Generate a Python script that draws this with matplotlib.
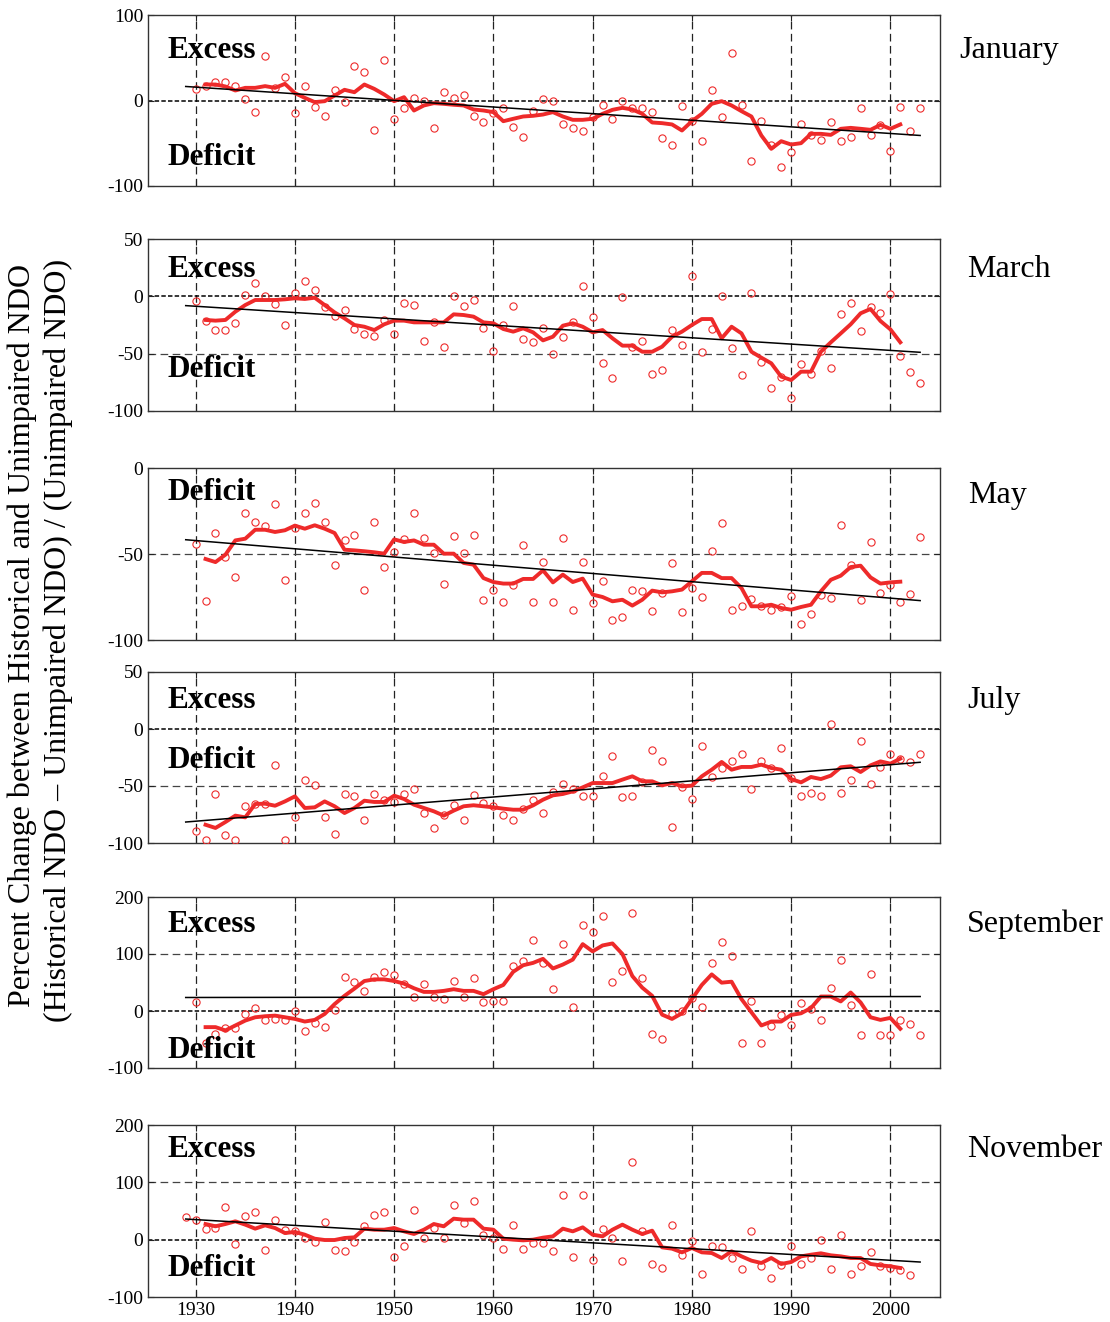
import numpy as np
import matplotlib
matplotlib.use('Agg')
import matplotlib.pyplot as plt

#
plt.rcParams['font.family'] = ['Liberation Serif', 'DejaVu Serif']
plt.rcParams['lines.scale_dashes'] = False
plt.rcParams['axes.unicode_minus'] = False

nan = np.nan

# Years of the observations, of the running mean and of the trend line
years = np.arange(1929, 2004)
avg_years = np.arange(1931, 2002)
trend_years = [1929, 2003]

# January
jan_obs = [nan,
	13.6, 17.5, 21.4, 21.4, 16.4, 2.0, -13.6, 51.9, 14.8, 28.0,
	-14.8, 17.5, -7.8, -17.9, 11.7, -2.3, 40.5, 33.9, -35.0, 47.6,
	-21.4, -8.6, 3.5, -0.8, -32.7, 10.5, 3.5, 7.0, -18.7, -25.7,
	-14.4, -8.2, -31.2, -42.9, -12.5, 1.2, 0.0, -27.3, -31.6, -35.9,
	-19.5, -5.0, -21.4, -0.8, -8.6, -9.0, -13.6, -44.4, -52.6, -6.2,
	-24.2, -47.6, 11.7, -19.5, 55.8, -5.8, -71.3, -23.4, -51.5, -78.0,
	-60.8, -27.7, -40.2, -46.4, -25.7, -46.8, -42.9, -9.0, -40.5, -29.2,
	-58.5, -7.4, -35.9, -9.0]
jan_avg = [18.7, 18.7, 16.4, 11.7, 14.8, 14.8, 16.8, 14.8, 19.5,
	8.6, 3.1, -1.9, -0.8, 5.8, 12.5, 9.7, 18.7, 13.6, 7.0,
	-0.8, 3.9, -11.7, -5.8, -3.1, -3.9, -5.0, -5.8, -10.5, -11.7,
	-13.6, -24.2, -21.4, -18.7, -17.9, -16.4, -13.6, -18.7, -22.6, -22.6,
	-21.4, -15.6, -10.9, -8.6, -10.5, -15.6, -25.7, -26.5, -28.0, -35.1,
	-24.2, -15.6, -3.9, -0.8, -5.8, -12.5, -18.7, -40.9, -56.5, -47.6,
	-51.5, -49.9, -39.0, -39.0, -40.2, -33.1, -32.0, -33.1, -34.3, -28.5,
	-33.1, -28.0]
jan_trend = [16.4, -40.9]

# March
mar_obs = [nan,
	-3.8, -21.2, -29.0, -29.4, -23.5, 0.9, 11.9, 0.3, -7.0, -25.3,
	2.6, 13.1, 5.5, -9.0, -17.2, -11.9, -28.2, -33.1, -34.6, -20.9,
	-33.1, -6.1, -7.8, -38.7, -22.1, -43.9, 0.3, -8.4, -3.5, -27.3,
	-48.0, -24.7, -8.1, -36.9, -39.5, -27.9, -50.6, -35.8, -22.7, 9.3,
	-18.3, -58.4, -71.5, -0.9, -43.9, -38.7, -68.0, -64.5, -29.0, -42.2,
	18.0, -48.8, -28.2, 0.6, -44.8, -68.9, 3.2, -57.0, -80.2, -70.0,
	-89.0, -59.3, -68.0, -47.4, -62.8, -15.7, -5.5, -30.0, -9.6, -14.2,
	1.7, -51.7, -66.3, -75.9]
mar_avg = [-20.6, -21.2, -20.6, -13.4, -7.6, -3.2, -3.2, -3.2, -2.6,
	-1.7, -2.3, -1.2, -7.6, -14.0, -19.2, -25.0, -26.5, -29.4, -24.4,
	-21.2, -21.2, -22.7, -22.7, -22.7, -22.7, -15.7, -16.3, -17.7, -22.7,
	-23.5, -28.5, -30.8, -27.9, -31.4, -38.4, -35.2, -25.6, -23.5, -26.5,
	-31.4, -29.4, -36.6, -43.0, -43.0, -48.3, -48.3, -43.9, -35.2, -30.8,
	-25.0, -19.8, -19.8, -36.6, -26.5, -32.3, -48.3, -53.5, -58.4, -70.0,
	-73.0, -65.7, -65.7, -48.3, -40.1, -32.3, -24.4, -14.8, -11.0, -21.5,
	-28.8, -40.1]
mar_trend = [-8.1, -48.8]

# May
may_obs = [nan,
	-44.4, -77.1, -37.8, -51.7, -63.4, -26.2, -31.6, -33.9, -20.9, -65.1,
	-34.9, -26.2, -20.5, -31.6, -56.4, -41.9, -39.0, -70.9, -31.4, -57.8,
	-49.0, -41.3, -26.2, -40.7, -49.6, -67.2, -39.5, -49.6, -39.0, -76.6,
	-70.9, -77.9, -68.2, -44.6, -77.7, -54.7, -77.7, -40.7, -82.4, -54.7,
	-78.5, -65.9, -88.4, -86.4, -71.1, -71.7, -82.9, -72.7, -55.2, -83.7,
	-69.8, -75.0, -48.3, -32.2, -82.6, -80.0, -76.2, -80.4, -82.6, -80.8,
	-74.6, -90.9, -84.9, -74.0, -75.4, -33.1, -56.2, -76.7, -43.2, -72.7,
	-67.8, -77.9, -73.3, -40.3]
may_avg = [-52.9, -54.7, -50.4, -42.1, -41.1, -35.9, -35.9, -37.2, -36.2,
	-33.5, -35.3, -33.3, -35.3, -37.8, -47.5, -47.9, -48.4, -49.0, -49.8,
	-41.5, -43.0, -42.1, -44.6, -44.6, -49.8, -49.8, -55.2, -56.2, -64.0,
	-66.3, -67.2, -67.2, -64.5, -64.5, -59.5, -66.5, -62.0, -66.3, -64.3,
	-73.6, -75.0, -77.5, -76.6, -80.0, -76.6, -71.3, -72.3, -71.7, -70.7,
	-65.9, -61.0, -61.0, -64.0, -64.0, -69.8, -80.4, -80.4, -79.5, -81.4,
	-82.4, -80.8, -79.5, -71.7, -65.0, -62.6, -57.6, -56.8, -63.6, -67.2,
	-66.5, -66.1]
may_trend = [-41.7, -77.1]

# July
jul_obs = [nan,
	-89.8, -97.0, -57.0, -93.0, -97.4, -67.3, -65.5, -65.5, -31.6, -97.4,
	-77.2, -44.7, -49.4, -77.2, -92.4, -57.0, -58.8, -80.1, -57.0, -62.0,
	-63.7, -57.0, -52.3, -74.0, -86.5, -75.1, -66.7, -80.1, -57.6, -64.6,
	-67.8, -75.1, -80.1, -69.9, -62.3, -73.7, -55.0, -48.2, -52.9, -58.8,
	-58.8, -41.5, -24.0, -59.6, -59.1, -46.2, -18.7, -28.4, -86.0, -50.9,
	-61.4, -15.2, -42.1, -33.9, -28.1, -22.2, -52.6, -28.1, -34.2, -16.7,
	-42.7, -58.8, -56.4, -58.8, 4.7, -56.4, -44.7, -10.5, -48.5, -33.6,
	-21.9, -26.0, -29.2, -21.9]
jul_avg = [-84.0, -86.8, -81.6, -76.0, -77.5, -65.8, -65.5, -67.3, -63.5,
	-59.1, -69.3, -68.7, -63.5, -67.8, -73.7, -69.3, -62.9, -64.0, -64.0,
	-58.5, -61.4, -66.4, -69.3, -72.2, -76.0, -71.6, -67.8, -66.9, -67.8,
	-68.7, -69.9, -70.8, -70.8, -67.0, -62.0, -58.2, -57.0, -54.7, -51.2,
	-47.4, -47.4, -47.4, -44.4, -41.5, -45.9, -45.9, -49.4, -47.4, -50.3,
	-49.7, -41.5, -35.7, -28.9, -35.7, -33.3, -33.3, -31.3, -34.2, -35.7,
	-43.9, -46.8, -42.1, -43.9, -40.9, -33.6, -32.7, -37.7, -31.9, -28.4,
	-30.4, -26.0]
jul_trend = [-81.6, -29.2]

# September
sep_obs = [nan,
	15.0, -55.5, -39.9, -30.0, -30.0, -5.2, 4.6, -15.0, -13.3, -15.6,
	0.0, -34.7, -20.2, -28.3, 1.2, 60.0, 50.3, 35.3, 59.5, 67.6,
	62.4, 48.0, 23.7, 46.8, 24.9, 20.8, 53.2, 24.9, 58.4, 15.0,
	17.9, 17.9, 78.6, 87.3, 123.7, 84.4, 39.3, 116.8, 6.4, 150.9,
	138.2, 167.0, 50.9, 70.5, 171.1, 58.4, -39.9, -48.6, -5.2, -0.6,
	22.5, 6.4, 84.4, 120.8, 96.0, -56.1, 16.8, -56.1, -26.6, -6.4,
	-24.3, 13.3, 3.5, -15.6, 41.0, 89.6, 9.8, -41.6, 65.3, -41.6,
	-42.8, -15.6, -22.5, -41.6]
sep_avg = [-28.3, -28.3, -34.1, -25.4, -16.8, -11.0, -9.2, -8.1, -11.0,
	-13.9, -18.5, -15.6, -5.2, 12.1, 26.6, 39.3, 52.6, 55.5, 55.5,
	52.6, 48.0, 39.9, 33.5, 33.5, 35.3, 38.2, 35.3, 35.3, 29.5,
	38.2, 45.7, 68.8, 80.3, 84.4, 91.5, 74.6, 81.5, 90.2, 117.3,
	104.6, 115.0, 118.5, 100.0, 61.3, 41.0, 26.6, -6.4, -13.9, -4.0,
	20.8, 45.7, 64.2, 49.7, 51.4, 20.8, -2.3, -25.4, -18.5, -18.5,
	-6.9, -4.0, 5.2, 25.4, 25.4, 16.8, 32.4, 15.0, -11.0, -15.6,
	-12.1, -31.2]
sep_trend = [23.7, 25.4]

# November
nov_obs = [39.5,
	33.7, 19.2, 20.3, 57.0, -7.6, 41.3, 48.8, -17.4, 34.3, 16.9,
	15.7, 2.9, -4.1, 30.2, -17.4, -20.3, -4.1, 24.4, 43.0, 48.8,
	-29.7, -11.6, 52.3, 2.9, 20.3, 2.9, 61.0, 29.1, 68.0, 8.7,
	2.9, -15.7, 26.2, -15.7, -5.8, -5.8, -19.2, 78.5, -30.8, 78.5,
	-34.9, 18.6, 2.9, -36.6, 135.5, 15.7, -42.4, -49.4, 25.6, -27.3,
	-1.7, -59.9, -11.6, -13.4, -32.0, -50.6, 15.7, -45.3, -66.9, -44.8,
	-11.6, -42.4, -32.0, 0.0, -50.6, 8.7, -59.9, -45.3, -22.1, -45.3,
	-49.4, -52.9, -62.2, nan]
nov_avg = [27.3, 23.3, 27.3, 32.0, 26.2, 19.2, 25.0, 20.3, 11.6,
	13.4, 8.7, 1.7, -0.6, -0.6, 2.9, 4.1, 19.2, 17.4, 17.4,
	20.3, 14.5, 9.9, 17.4, 27.3, 23.3, 36.6, 34.9, 34.9, 19.2,
	17.4, 1.7, 0.0, -1.2, 0.0, 3.5, 5.8, 19.2, 14.5, 21.5,
	8.7, 5.8, 17.4, 26.2, 17.4, 9.9, 15.7, -13.4, -15.7, -22.1,
	-14.5, -22.1, -23.3, -32.0, -20.3, -29.1, -36.6, -40.7, -32.0, -42.4,
	-39.0, -29.1, -26.2, -23.8, -27.3, -29.1, -32.0, -32.0, -42.4, -44.8,
	-46.5, -49.4]
nov_trend = [36.0, -39.0]

months = ['January', 'March', 'May', 'July', 'September', 'November']
y_limits = [(-100, 100), (-100, 50), (-100, 0), (-100, 50), (-100, 200), (-100, 200)]
y_ticks = [[-100, 0, 100], [-100, -50, 0, 50], [-100, -50, 0], [-100, -50, 0, 50],
	[-100, 0, 100, 200], [-100, 0, 100, 200]]
x_ticks = [1930, 1940, 1950, 1960, 1970, 1980, 1990, 2000]

series = [
	(jan_obs, jan_avg, jan_trend),
	(mar_obs, mar_avg, mar_trend),
	(may_obs, may_avg, may_trend),
	(jul_obs, jul_avg, jul_trend),
	(sep_obs, sep_avg, sep_trend),
	(nov_obs, nov_avg, nov_trend),
]

# Panel boxes in pixels (top, bottom) and label positions (axes fraction)
W, H = 1110, 1322
panel_px = [(15, 186), (239, 411), (468, 640), (672, 843), (897, 1068), (1125, 1297)]
excess_y = [0.795, 0.82, None, 0.836, 0.842, 0.86]
deficit_y = [0.164, 0.244, 0.855, 0.485, 0.105, 0.163]
month_y = [0.795, 0.82, 0.843, 0.836, 0.842, 0.86]
month_x = [1.025, 1.034, 1.036, 1.034, 1.034, 1.034]

red = '#ee2a2a'


#
def draw_panel(ax, i):

	obs, avg, trend = series[i]

	ax.set_xlim(1925.2, 2005.0)
	ax.set_ylim(*y_limits[i])
	ax.set_yticks(y_ticks[i])
	ax.set_xticks(x_ticks)

	# Grid lines
	for x in x_ticks:
		ax.axvline(x, color='#222222', lw=0.9, ls=(0, (5.5, 3.2)), zorder=1)
	for y in y_ticks[i]:
		if y in y_limits[i]:
			continue
		if y == 0:
			ax.axhline(y, color='black', lw=1.1, ls=(0, (3.2, 1.6)), zorder=1)
		else:
			ax.axhline(y, color='#444444', lw=0.9, ls=(0, (5.5, 3.2)), zorder=1)

	# Data
	ax.plot(years, obs, 'o', ms=5.2, mfc='none', mec=red, mew=0.8, zorder=3)
	ax.plot(avg_years, avg, color=red, lw=2.8, zorder=4)
	ax.plot(trend_years, trend, color='black', lw=1.1, zorder=5)

	# Labels
	if excess_y[i] is not None:
		ax.text(0.024, excess_y[i], 'Excess', transform=ax.transAxes, fontsize=22.5,
			fontweight='bold', va='center', ha='left', zorder=6)
	ax.text(0.024, deficit_y[i], 'Deficit', transform=ax.transAxes, fontsize=22.5,
		fontweight='bold', va='center', ha='left', zorder=6)
	ax.text(month_x[i], month_y[i], months[i], transform=ax.transAxes, fontsize=23,
		va='center', ha='left')

	ax.tick_params(direction='in', length=4, width=0.8, top=True, right=True,
		labelsize=14, colors='#222222', labelcolor='black')
	if i < 5:
		ax.tick_params(labelbottom=False)
	for s in ax.spines.values():
		s.set_color('#333333')
		s.set_linewidth(1.0)


#
def main():

	fig = plt.figure(figsize=(W / 100, H / 100), dpi=100)

	for i, (top, bot) in enumerate(panel_px):
		ax = fig.add_axes([148 / W, 1 - bot / H, 792 / W, (bot - top) / H])
		draw_panel(ax, i)

	# Y axis title, two lines
	fig.text(22 / W, 1 - 635 / H, 'Percent Change between Historical and Unimpaired NDO',
		rotation=90, fontsize=23, ha='center', va='center')
	fig.text(58 / W, 1 - 640 / H, '(Historical NDO \u2013 Unimpaired NDO) / (Unimpaired NDO)',
		rotation=90, fontsize=23, ha='center', va='center')

	fig.savefig('out.png', dpi=100)


if __name__ == '__main__':
	main()
